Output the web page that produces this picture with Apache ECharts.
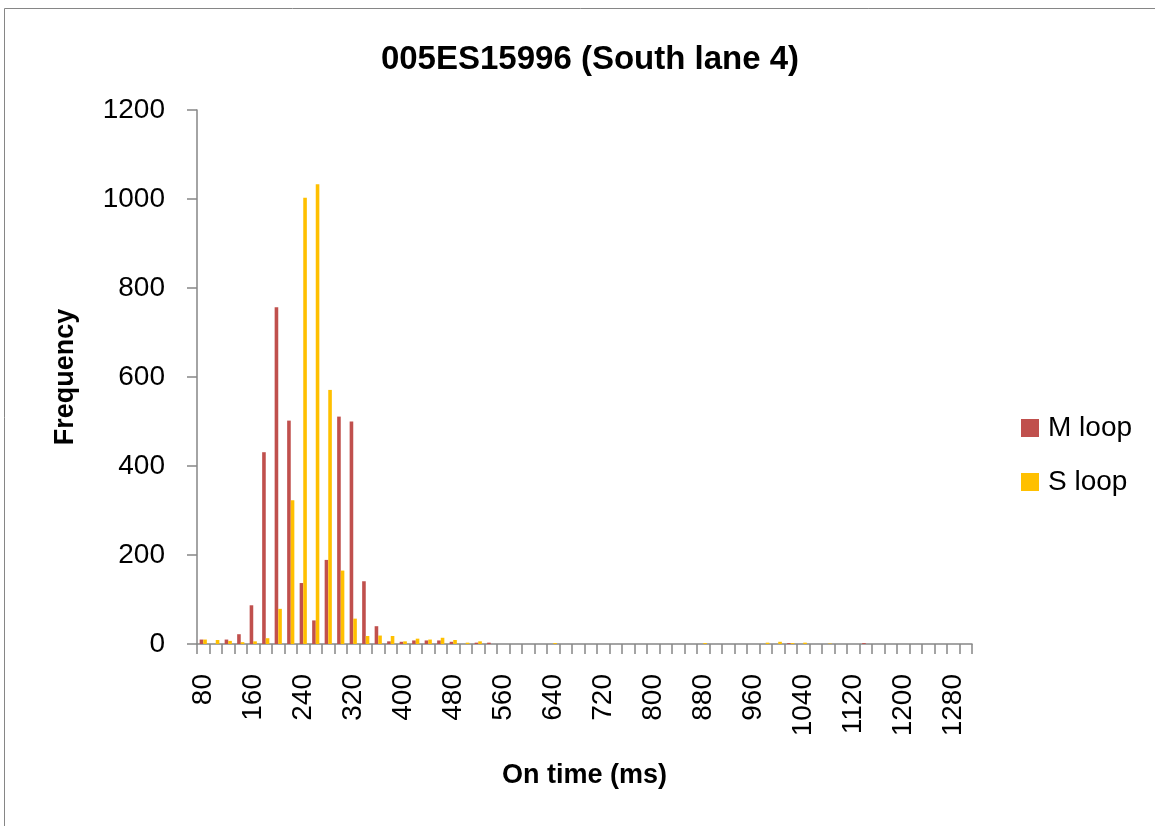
<!DOCTYPE html>
<html>
<head>
<meta charset="utf-8">
<title>005ES15996 (South lane 4)</title>
<script src="https://cdn.jsdelivr.net/npm/echarts@6/dist/echarts.min.js"></script>
<style>
  html, body { margin: 0; padding: 0; background: #fff; }
  #chart { width: 1155px; height: 826px; }
</style>
</head>
<body>
<div id="chart"></div>
<script>
// on-time bins (ms), one per 20 ms
const categories = [
  '80', '100', '120', '140', '160', '180', '200', '220', '240', '260',
  '280', '300', '320', '340', '360', '380', '400', '420', '440', '460',
  '480', '500', '520', '540', '560', '580', '600', '620', '640', '660',
  '680', '700', '720', '740', '760', '780', '800', '820', '840', '860',
  '880', '900', '920', '940', '960', '980', '1000', '1020', '1040', '1060',
  '1080', '1100', '1120', '1140', '1160', '1180', '1200', '1220', '1240', '1260',
  '1280', '1300'
];

const mLoop = [
  10, 0, 10, 22, 87, 431, 757, 502, 137, 53,
  189, 511, 500, 141, 40, 6, 5, 8, 8, 8,
  5, 0, 3, 3, 0, 0, 0, 0, 0, 0,
  0, 0, 0, 0, 0, 0, 0, 0, 0, 0,
  0, 0, 0, 0, 0, 0, 0, 2, 0, 0,
  0, 0, 0, 2, 0, 0, 0, 0, 0, 0,
  0, 0
];

const sLoop = [
  10, 9, 7, 4, 6, 13, 79, 323, 1003, 1033,
  571, 165, 57, 18, 19, 18, 6, 12, 10, 14,
  9, 3, 6, 0, 0, 0, 0, 0, 2, 0,
  0, 0, 0, 0, 0, 0, 0, 0, 0, 0,
  2, 0, 0, 0, 0, 3, 5, 2, 3, 0,
  1, 0, 0, 0, 0, 0, 0, 0, 0, 0,
  0, 0
];

const yTicks = { min: 0, max: 1200, step: 200 };

const FONT = '"Liberation Sans", Arial, sans-serif';
const AXIS_GREY = '#868686';

const chart = echarts.init(document.getElementById('chart'));

const option = {
  backgroundColor: '#fff',
  animation: false,
  textStyle: { fontFamily: FONT, color: '#000' },
  title: {
    text: '005ES15996 (South lane 4)',
    left: 585,
    textAlign: 'center',
    top: 38,
    textStyle: { fontFamily: FONT, fontSize: 33, fontWeight: 'bold', color: '#000' },
  },
  graphic: [
    {
      type: 'rect',
      shape: { x: 4.5, y: 8.5, width: 1170, height: 840 },
      style: { fill: 'none', stroke: AXIS_GREY, lineWidth: 1 },
      silent: true,
      z: -1,
    },
  ],
  legend: {
    orient: 'vertical',
    left: 1016,
    top: 409,
    icon: 'rect',
    itemWidth: 18,
    itemHeight: 18,
    itemGap: 26,
    textStyle: { fontFamily: FONT, fontSize: 28, color: '#000', padding: [0, 0, 0, 4] },
    data: ['M loop', 'S loop'],
  },
  grid: {
    left: 197,
    right: 183,
    top: 110,
    bottom: 182,
    containLabel: false,
  },
  xAxis: {
    type: 'category',
    data: categories,
    name: 'On time (ms)',
    nameLocation: 'middle',
    nameGap: 118,
    nameTextStyle: { fontFamily: FONT, fontSize: 27, fontWeight: 'bold', color: '#000' },
    axisLine: { show: true, lineStyle: { color: AXIS_GREY, width: 1.5 } },
    axisTick: {
      show: true,
      interval: 0,
      alignWithLabel: false,
      length: 10,
      lineStyle: { color: AXIS_GREY, width: 1.5 },
    },
    axisLabel: {
      interval: 3,
      rotate: 90,
      margin: 30,
      fontFamily: FONT,
      fontSize: 28,
      color: '#000',
    },
  },
  yAxis: {
    type: 'value',
    min: yTicks.min,
    max: yTicks.max,
    interval: yTicks.step,
    name: 'Frequency',
    nameLocation: 'middle',
    nameGap: 118,
    nameRotate: 90,
    nameTextStyle: { fontFamily: FONT, fontSize: 27, fontWeight: 'bold', color: '#000' },
    axisLine: { show: true, lineStyle: { color: AXIS_GREY, width: 1.5 } },
    axisTick: { show: true, length: 10, lineStyle: { color: AXIS_GREY, width: 1.5 } },
    splitLine: { show: false },
    axisLabel: {
      margin: 32,
      fontFamily: FONT,
      fontSize: 28,
      color: '#000',
      formatter: (v) => String(v),
    },
  },
  series: [
    {
      name: 'M loop',
      type: 'bar',
      data: mLoop,
      barWidth: 3.6,
      barGap: '0%',
      itemStyle: { color: '#C0504D' },
    },
    {
      name: 'S loop',
      type: 'bar',
      data: sLoop,
      barWidth: 3.6,
      itemStyle: { color: '#FFC000' },
    },
  ],
};

chart.setOption(option);

window.addEventListener('resize', () => chart.resize());
</script>
</body>
</html>
